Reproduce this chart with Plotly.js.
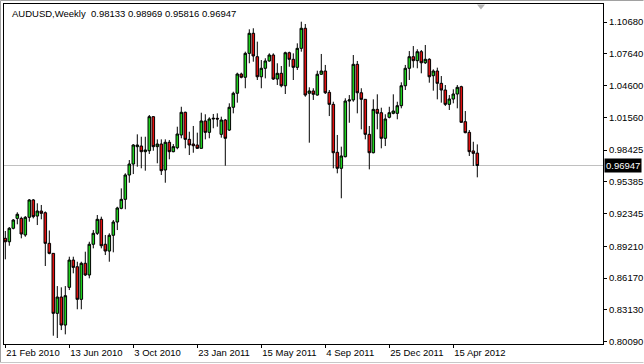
<!DOCTYPE html>
<html>
<head>
<meta charset="utf-8">
<script src="https://cdn.plot.ly/plotly-3.0.1.min.js"></script>
<style>
html,body{margin:0;padding:0;background:#fff;}
#chart{width:644px;height:364px;}
</style>
</head>
<body>
<div id="chart"></div>
<script>
const symbolName = 'AUDUSD,Weekly';
const dates = [
'2010-02-21','2010-02-28','2010-03-07','2010-03-14','2010-03-21','2010-03-28','2010-04-04','2010-04-11','2010-04-18','2010-04-25',
'2010-05-02','2010-05-09','2010-05-16','2010-05-23','2010-05-30','2010-06-06','2010-06-13','2010-06-20','2010-06-27','2010-07-04',
'2010-07-11','2010-07-18','2010-07-25','2010-08-01','2010-08-08','2010-08-15','2010-08-22','2010-08-29','2010-09-05','2010-09-12',
'2010-09-19','2010-09-26','2010-10-03','2010-10-10','2010-10-17','2010-10-24','2010-10-31','2010-11-07','2010-11-14','2010-11-21',
'2010-11-28','2010-12-05','2010-12-12','2010-12-19','2010-12-26','2011-01-02','2011-01-09','2011-01-16','2011-01-23','2011-01-30',
'2011-02-06','2011-02-13','2011-02-20','2011-02-27','2011-03-06','2011-03-13','2011-03-20','2011-03-27','2011-04-03','2011-04-10',
'2011-04-17','2011-04-24','2011-05-01','2011-05-08','2011-05-15','2011-05-22','2011-05-29','2011-06-05','2011-06-12','2011-06-19',
'2011-06-26','2011-07-03','2011-07-10','2011-07-17','2011-07-24','2011-07-31','2011-08-07','2011-08-14','2011-08-21','2011-08-28',
'2011-09-04','2011-09-11','2011-09-18','2011-09-25','2011-10-02','2011-10-09','2011-10-16','2011-10-23','2011-10-30','2011-11-06',
'2011-11-13','2011-11-20','2011-11-27','2011-12-04','2011-12-11','2011-12-18','2011-12-25','2012-01-01','2012-01-08','2012-01-15',
'2012-01-22','2012-01-29','2012-02-05','2012-02-12','2012-02-19','2012-02-26','2012-03-04','2012-03-11','2012-03-18','2012-03-25',
'2012-04-01','2012-04-08','2012-04-15','2012-04-22','2012-04-29','2012-05-06','2012-05-13','2012-05-20','2012-05-27'
];
const openVals = [
0.8998,0.8965,0.9094,0.9189,0.9189,0.9030,0.9199,0.9365,0.9211,0.9259,
0.9243,0.8950,0.8854,0.8280,0.8436,0.8168,0.8529,0.8790,0.8726,0.8414,
0.8759,0.8647,0.8941,0.9046,0.9180,0.8941,0.8876,0.9027,0.9154,0.9285,
0.9371,0.9604,0.9709,0.9875,0.9881,0.9827,0.9836,1.0162,0.9875,0.9900,
0.9652,0.9917,0.9827,0.9865,0.9987,1.0204,0.9945,0.9900,0.9891,0.9859,
1.0121,1.0012,1.0140,1.0146,0.9993,1.0130,1.0034,1.0252,1.0386,1.0570,
1.0539,1.0768,1.0960,1.0736,1.0544,1.0625,1.0695,1.0752,1.0522,1.0577,
1.0458,1.0774,1.0711,1.0634,1.0816,1.1008,1.0386,1.0408,1.0369,1.0568,
1.0599,1.0395,1.0280,0.9821,0.9668,0.9779,1.0312,1.0322,1.0663,1.0391,
1.0328,0.9993,0.9817,1.0232,1.0200,0.9955,1.0156,1.0194,1.0194,1.0267,
1.0458,1.0625,1.0736,1.0698,1.0784,1.0678,1.0711,1.0554,1.0599,1.0481,
1.0417,1.0280,1.0331,1.0379,1.0449,1.0114,1.0012,0.9834,0.98133
];
const highVals = [
0.9068,0.9106,0.9182,0.9247,0.9205,0.9211,0.9374,0.9374,0.9333,0.9317,
0.9255,0.9073,0.8857,0.8541,0.8529,0.8541,0.8822,0.8822,0.8774,0.8774,
0.8870,0.8965,0.9077,0.9221,0.9205,0.9030,0.9046,0.9173,0.9300,0.9476,
0.9620,0.9747,0.9900,0.9993,0.9970,0.9970,1.0178,1.0168,0.9945,0.9945,
0.9945,0.9939,0.9900,1.0066,1.0257,1.0210,1.0018,1.0073,1.0009,1.0200,
1.0185,1.0156,1.0188,1.0194,1.0162,1.0140,1.0290,1.0401,1.0583,1.0583,
1.0784,1.0998,1.1008,1.0880,1.0704,1.0721,1.0768,1.0768,1.0673,1.0647,
1.0784,1.0784,1.0768,1.0864,1.1071,1.1049,1.0443,1.0434,1.0602,1.0762,
1.0657,1.0417,1.0305,0.9987,0.9875,1.0338,1.0369,1.0752,1.0695,1.0434,
1.0330,1.0073,1.0328,1.0376,1.0248,1.0185,1.0257,1.0376,1.0305,1.0491,
1.0657,1.0790,1.0838,1.0807,1.0800,1.0848,1.0721,1.0615,1.0631,1.0551,
1.0465,1.0369,1.0424,1.0465,1.0458,1.0216,1.0034,0.9922,0.98969
];
const lowVals = [
0.8797,0.8927,0.9084,0.9132,0.8998,0.9013,0.9157,0.9189,0.9125,0.9180,
0.8733,0.8845,0.8066,0.8044,0.8120,0.8079,0.8503,0.8663,0.8319,0.8319,
0.8637,0.8615,0.8902,0.9030,0.8902,0.8838,0.8774,0.8864,0.9077,0.9276,
0.9276,0.9530,0.9613,0.9683,0.9668,0.9645,0.9805,0.9836,0.9716,0.9604,
0.9530,0.9754,0.9821,0.9850,0.9955,0.9859,0.9795,0.9817,0.9853,0.9855,
0.9945,0.9955,1.0051,1.0066,0.9961,0.9693,1.0025,1.0194,1.0296,1.0529,
1.0434,1.0673,1.0688,1.0513,1.0434,1.0529,1.0688,1.0513,1.0465,1.0443,
1.0379,1.0640,1.0513,1.0609,1.0784,1.0353,0.9913,1.0322,1.0363,1.0561,
1.0379,1.0168,0.9668,0.9620,0.9381,0.9773,1.0104,1.0305,1.0194,1.0041,
0.9945,0.9658,0.9811,1.0041,0.9859,0.9881,1.0146,1.0185,1.0137,1.0242,
1.0417,1.0513,1.0631,1.0625,1.0577,1.0666,1.0487,1.0411,1.0328,1.0296,
1.0264,1.0226,1.0290,1.0242,1.0104,1.0003,0.9786,0.9690,0.95816
];
const closeVals = [
0.8965,0.9094,0.9173,0.9228,0.9039,0.9199,0.9365,0.9205,0.9259,0.9237,
0.8950,0.8854,0.8280,0.8436,0.8168,0.8449,0.8790,0.8720,0.8414,0.8759,
0.8647,0.8941,0.9046,0.9180,0.8927,0.8876,0.9027,0.9154,0.9288,0.9371,
0.9604,0.9709,0.9891,0.9891,0.9827,0.9843,1.0162,0.9875,0.9900,0.9645,
0.9917,0.9827,0.9875,0.9996,1.0204,0.9945,0.9891,0.9884,0.9859,1.0121,
1.0012,1.0140,1.0146,1.0140,1.0130,0.9955,1.0252,1.0386,1.0570,1.0539,
1.0768,1.0960,1.0743,1.0544,1.0625,1.0695,1.0752,1.0522,1.0577,1.0458,
1.0774,1.0711,1.0634,1.0816,1.1008,1.0369,1.0408,1.0376,1.0568,1.0599,
1.0391,1.0280,0.9817,0.9668,0.9786,1.0312,1.0322,1.0663,1.0391,1.0328,
0.9993,0.9817,1.0232,1.0194,0.9955,1.0140,1.0200,1.0216,1.0267,1.0458,
1.0625,1.0736,1.0698,1.0784,1.0678,1.0711,1.0544,1.0599,1.0481,1.0417,
1.0280,1.0331,1.0379,1.0443,1.0108,1.0009,0.9827,0.9811,0.96947
];
const priceTicks = [1.10680,1.07640,1.04600,1.01560,0.98425,0.95385,0.92345,0.89210,0.86170,0.83130,0.80090];
const priceTickLabels = ['1.10680','1.07640','1.04600','1.01560','0.98425','0.95385','0.92345','0.89210','0.86170','0.83130','0.80090'];
const dateTicks = ['2010-02-21','2010-06-13','2010-10-03','2011-01-23','2011-05-15','2011-09-04','2011-12-25','2012-04-15'];
const dateTickLabels = ['21 Feb 2010','13 Jun 2010','3 Oct 2010','23 Jan 2011','15 May 2011','4 Sep 2011','25 Dec 2011','15 Apr 2012'];

const n = closeVals.length - 1;
const fmt = v => v.toFixed(5);
const headerText = symbolName + '\u00a0\u00a0' + [openVals[n],highVals[n],lowVals[n],closeVals[n]].map(fmt).join(' ');
const FONT = 'Liberation Sans, Arial, sans-serif';

const trace = {
  type:'candlestick',
  x:dates, open:openVals, high:highVals, low:lowVals, close:closeVals,
  increasing:{line:{color:'#000000',width:1}, fillcolor:'#1ed01e'},
  decreasing:{line:{color:'#000000',width:1}, fillcolor:'#e01010'},
  whiskerwidth:0,
  hoverinfo:'skip'
};

const layout = {
  width:644, height:364,
  margin:{l:4,r:41,t:4,b:20,pad:0},
  paper_bgcolor:'#ffffff', plot_bgcolor:'#ffffff',
  showlegend:false,
  boxgap:0.2, boxgroupgap:0.2,
  font:{family:FONT,size:9.5,color:'#000'},
  xaxis:{
    type:'date',
    range:['2010-02-18 17:00','2013-01-01 23:30'],
    rangeslider:{visible:false},
    tickmode:'array', tickvals:dateTicks, ticktext:dateTickLabels,
    ticks:'outside', ticklen:3, tickcolor:'#000', tickwidth:1,
    ticklabelposition:'outside right',
    showgrid:false, zeroline:false,
    showline:true, mirror:true, linecolor:'#000', linewidth:1,
    tickfont:{family:FONT,size:9.5,color:'#000'},
    automargin:false, fixedrange:true
  },
  yaxis:{
    side:'right',
    range:[0.798666,1.124025],
    tickmode:'array', tickvals:priceTicks, ticktext:priceTickLabels,
    ticks:'outside', ticklen:3, tickcolor:'#000', tickwidth:1,
    showgrid:false, zeroline:false,
    showline:true, mirror:true, linecolor:'#000', linewidth:1,
    tickfont:{family:FONT,size:9.5,color:'#000'},
    automargin:false, fixedrange:true
  },
  shapes:[
    {type:'line', xref:'paper', x0:0, x1:1, yref:'y', y0:closeVals[n], y1:closeVals[n], line:{color:'#c0c0c0',width:1}, layer:'below'},
    {type:'path', xref:'paper', yref:'paper', path:'M0.7896,0.9985 L0.8030,0.9985 L0.7963,0.9838 Z', fillcolor:'#b4b4b4', line:{width:0}},
    {type:'line', xref:'paper', yref:'paper', x0:-0.00584, x1:1.0676, y0:1.0103, y1:1.0103, line:{color:'#a0a0a0',width:1}},
    {type:'line', xref:'paper', yref:'paper', x0:-0.00584, x1:-0.00584, y0:-0.0544, y1:1.0103, line:{color:'#a0a0a0',width:1}},
    {type:'line', xref:'paper', yref:'paper', x0:-0.00584, x1:1.0676, y0:-0.0544, y1:-0.0544, line:{color:'#c8c8c8',width:1}}
  ],
  annotations:[
    {xref:'paper', yref:'paper', x:0.01, y:0.9735, xanchor:'left', yanchor:'middle', showarrow:false,
     text:headerText, font:{family:FONT,size:9.5,color:'#000'}},
    {xref:'paper', yref:'y', x:1, y:closeVals[n], xanchor:'left', yanchor:'middle', xshift:1, showarrow:false,
     text:fmt(closeVals[n]), bgcolor:'#000000', borderpad:1, font:{family:FONT,size:9.5,color:'#ffffff'}}
  ]
};

Plotly.newPlot('chart',[trace],layout,{staticPlot:true,displayModeBar:false});
</script>
</body>
</html>
